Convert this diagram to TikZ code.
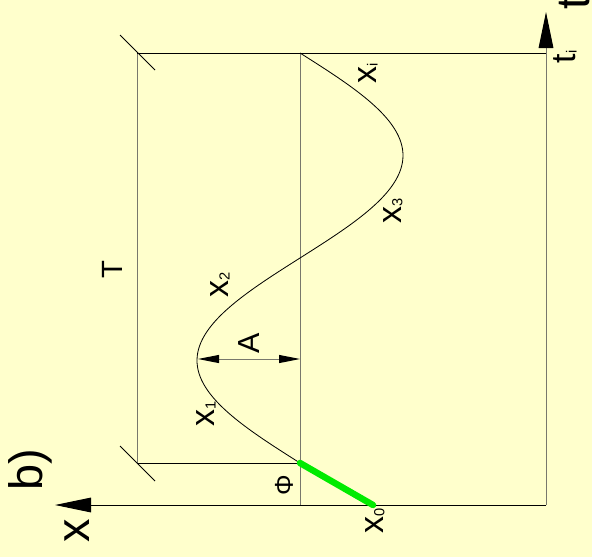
\documentclass[tikz,border=0pt]{standalone}
\usepackage{fontspec}
\setmainfont{Liberation Sans}
\usetikzlibrary{arrows.meta}
\definecolor{paper}{RGB}{255,255,204}
\definecolor{phase}{RGB}{0,235,0}
\definecolor{guide}{RGB}{120,120,108}
\newcommand{\xsub}[2]{#1\raisebox{-1pt}{\fontsize{12.5}{12.5}\selectfont #2}}
\begin{document}
\begin{tikzpicture}[line cap=butt,line join=miter,x=.03cm,y=-.03cm,font=\fontsize{29}{29}\selectfont]
	\tikzset{declare function={tb=53;te=463;xm=300;amp=103;
			f(\s)=xm-amp*sin(360/(te-tb)*(te-\s));
		},
		arrowaxis/.style={line width=.85pt,-{Triangle[length=1.08cm,width=.44cm,color=black]}},
		dimline/.style={guide,line width=.8pt,{Triangle[length=.63cm,width=.24cm,color=black]}-{Triangle[length=.63cm,width=.24cm,color=black]}},
		lbl/.style={rotate=90,inner sep=0pt},
		big/.style={lbl,font=\fontsize{40}{40}\selectfont}
	}
	\fill[paper] (0,0) rectangle (592,557);
	\useasboundingbox (0,0) rectangle (592,557);
	\coordinate (O) at (546,505);
	\coordinate (xtip) at (55,505);
	\coordinate (ttip) at (546,12);
	\coordinate (R1) at (137,53);
	\coordinate (R2) at (137,463);
	\coordinate (Ti) at (546,53);
	\coordinate (M1) at (300,53);
	\coordinate (M2) at (300,505);
	\coordinate (P0) at (300,463);
	\coordinate (X0) at (373,505);
	\coordinate (Apk) at (198,359);
	\coordinate (Aax) at (300,359);
	\draw[arrowaxis,guide] (O)--(ttip);
	\draw[arrowaxis] (O)--(xtip);
	\draw[guide,line width=.85pt] (R1)--(R2) (M1)--(M2);
	\draw[line width=.85pt] (R1)--(Ti) (R2)--(P0);
	\draw[line width=.7pt,shift={(R1)}] (-17,-18)--(18,17);
	\draw[line width=.7pt,shift={(R2)}] (-17,-17)--(18,18);
	\draw[line width=.7pt] plot[domain=tb:te,samples=120,smooth] ({f(\x)},\x);
	\draw[phase,line width=5.5pt,line cap=round] (P0)--(X0);
	\draw[dimline] (Apk)--(Aax);
	\node[big] (lblb) at (30,470) {b)};
	\node[big] (lblx) at (77,531) {x};
	\node[big] (lblt) at (575,3) {t};
	\node[lbl,font=\fontsize{25}{25}\selectfont] (lblT) at (112,270) {T};
	\node[lbl,font=\fontsize{26}{26}\selectfont] (lblA) at (249,343) {A};
	\node[lbl,font=\fontsize{22}{22}\selectfont] (lblphi) at (284,485) {Φ};
	\node[lbl] (lblx0) at (375,521) {\xsub{x}{0}};
	\node[lbl] (lblx1) at (206,414) {\xsub{x}{1}};
	\node[lbl] (lblx2) at (220,285) {\xsub{x}{2}};
	\node[lbl] (lblx3) at (393,211) {\xsub{x}{3}};
	\node[lbl] (lblxi) at (368,73) {\xsub{x}{i}};
	\node[lbl] (lblti) at (565,57) {\xsub{t}{i}};
\end{tikzpicture}
\end{document}
